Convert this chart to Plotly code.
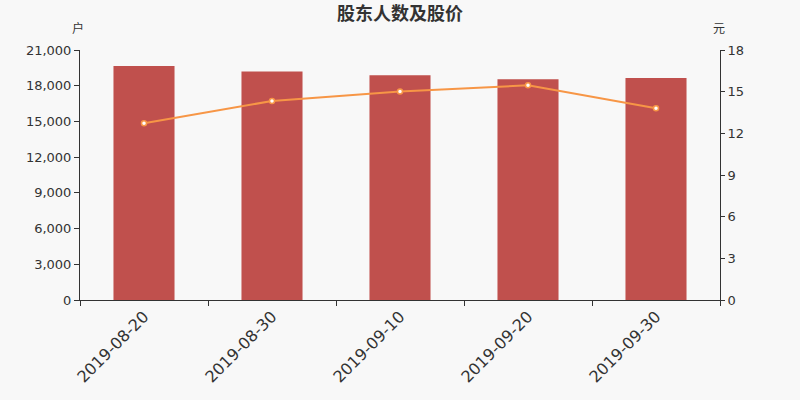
import plotly.graph_objects as go

dates = ["2019-08-20", "2019-08-30", "2019-09-10", "2019-09-20", "2019-09-30"]
holders = [19650, 19200, 18870, 18540, 18650]
prices = [12.72, 14.33, 15.02, 15.46, 13.80]
left_ticks = [0, 3000, 6000, 9000, 12000, 15000, 18000, 21000]
right_ticks = [0, 3, 6, 9, 12, 15, 18]

tick_font = "DejaVu Sans, sans-serif"
cjk_font = "Noto Sans CJK SC, sans-serif"
fig = go.Figure()
fig.add_trace(go.Bar(x=dates, y=holders, marker=dict(color="#c0504d", line=dict(width=0)), name="股东人数"))
fig.add_trace(go.Scatter(x=dates, y=prices, yaxis="y2", mode="lines+markers",
                         line=dict(color="#f79646", width=2),
                         marker=dict(color="#ffffff", size=5, line=dict(color="#f79646", width=1.5)),
                         name="股价"))

fig.update_layout(
    width=800, height=400,
    paper_bgcolor="#f8f8f8", plot_bgcolor="#f8f8f8",
    margin=dict(l=80, r=80, t=50, b=100, autoexpand=False),
    showlegend=False, bargap=0.523,
    font=dict(family=tick_font, color="#333333", size=12),
    title=dict(text="<b>股东人数及股价</b>", x=0.5, xanchor="center", xref="paper",
               y=1 - 14 / 400, yanchor="middle",
               font=dict(size=18, color="#333333", family=cjk_font)),
    xaxis=dict(type="category", tickson="boundaries", ticks="outside", ticklen=5,
               tickcolor="#333333", showline=True, linecolor="#333333", linewidth=1,
               tickangle=-45, tickfont=dict(size=16, color="#333333", family=tick_font),
               showgrid=False, automargin=False),
    yaxis=dict(range=[0, 21000], tickvals=left_ticks, tickformat=",d", ticks="outside", ticklen=5,
               showline=True, linecolor="#333333", tickcolor="#333333", showgrid=False, zeroline=False,
               tickfont=dict(size=13, family=tick_font), automargin=False),
    yaxis2=dict(range=[0, 18], tickvals=right_ticks, overlaying="y", side="right", ticks="outside", ticklen=4,
                showline=True, linecolor="#333333", tickcolor="#333333", showgrid=False, zeroline=False,
                tickfont=dict(size=13, family=tick_font), automargin=False),
    annotations=[
        dict(text="户", xref="paper", yref="paper", x=(78 - 80) / 640, y=(300 - 28) / 250,
             xanchor="center", yanchor="middle",
             showarrow=False, font=dict(size=12, color="#333333", family=cjk_font)),
        dict(text="元", xref="paper", yref="paper", x=(719 - 80) / 640, y=(300 - 28) / 250,
             xanchor="center", yanchor="middle",
             showarrow=False, font=dict(size=12, color="#333333", family=cjk_font)),
    ],
)
fig.write_html("out.html", config={"displayModeBar": False},
               post_script="document.body.style.margin='0';document.body.style.background='#f8f8f8';")
